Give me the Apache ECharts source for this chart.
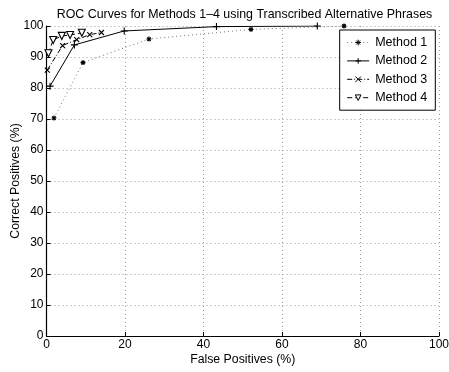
<!DOCTYPE html>
<html><head><meta charset="utf-8">
<script src="https://cdn.jsdelivr.net/npm/echarts@6/dist/echarts.min.js"></script>
<style>html,body{margin:0;padding:0;background:#fff}#c{width:449px;height:372px}</style>
</head><body><div id="c"></div>
<script>
const titleText = 'ROC Curves for Methods 1\u20134 using Transcribed Alternative Phrases';
const xName = 'False Positives (%)';
const yName = 'Correct Positives (%)';
const seriesNames = ['Method 1', 'Method 2', 'Method 3', 'Method 4'];
const method1 = [[1.9,70.3],[9.3,88.2],[26.1,95.8],[52.1,98.9],[75.8,100]];
const method2 = [[0.9,80.6],[7.1,93.9],[19.8,98.4],[43.3,99.8],[69,100]];
const method3 = [[0.2,85.8],[4.1,93.7],[7.7,95.6],[11,97.2],[14,97.9]];
const method4 = [[0.5,91.2],[1.7,95.5],[3.9,96.8],[6,97.1],[9,97.8]];

const font = 'Liberation Sans, Arial, Helvetica, sans-serif';
const chart = echarts.init(document.getElementById('c'), null, {renderer:'canvas'});
const asterisk = 'path://M0,-1L0,1M-1,0L1,0M-0.7,-0.7L0.7,0.7M-0.7,0.7L0.7,-0.7';
const plus = 'path://M0,-1L0,1M-1,0L1,0';
const cross = 'path://M-1,-1L1,1M-1,1L1,-1';
const tri = 'path://M-1,-0.9L1,-0.9L0,0.9Z';
function mk(name, data, sym, size, lineType, lineColor, fill){
  return {name, type:'line', data, symbol:sym, symbolSize:size, showSymbol:true,
    lineStyle:{color:lineColor, width:1, type:lineType},
    itemStyle:{color:fill, borderColor:'#000', borderWidth:1.1},
    emphasis:{disabled:true}, animation:false, z: 3};
}
chart.setOption({
  animation:false,
  backgroundColor:'#fff',
  title:{text:titleText, left:239.5, top:4, textAlign:'center',
    textStyle:{fontFamily:font, fontSize:12.4, fontWeight:'normal', color:'#000'}},
  grid:{left:46.5, right:10, top:26, bottom:36, outerBoundsMode:'none', containLabel:false},
  xAxis:{type:'value', min:0, max:100, interval:20, name:xName, nameLocation:'middle', nameGap:18,
    nameMoveOverlap:false,
    nameTextStyle:{fontFamily:font, fontSize:12.3, color:'#000'},
    axisLine:{show:true, onZero:false, lineStyle:{color:'#000', width:1.2}},
    axisTick:{show:true, inside:true, length:4, lineStyle:{color:'#000'}},
    axisLabel:{fontFamily:font, fontSize:12, color:'#000', margin:3},
    splitLine:{show:true, lineStyle:{color:'#999', type:[1,3], width:1}}},
  yAxis:{type:'value', min:0, max:100, interval:10, name:yName, nameLocation:'middle', nameGap:25,
    nameMoveOverlap:false,
    nameTextStyle:{fontFamily:font, fontSize:12.3, color:'#000'},
    axisLine:{show:true, onZero:false, lineStyle:{color:'#000', width:1.2}},
    axisTick:{show:true, inside:true, length:4, lineStyle:{color:'#000'}},
    axisLabel:{fontFamily:font, fontSize:12, color:'#000', margin:3},
    splitLine:{show:true, lineStyle:{color:'#999', type:[1,3], width:1}}},
  legend:{orient:'vertical', right:13.7, top:30, backgroundColor:'#fff', borderColor:'#000', borderWidth:1,
    padding:[6,8,6,7], itemGap:5.4, itemWidth:22, itemHeight:7,
    itemStyle:{borderWidth:1},
    lineStyle:{width:1},
    textStyle:{fontFamily:font, fontSize:12.5, color:'#000', padding:[0,0,0,1]},
    data:seriesNames},
  series:[
    mk(seriesNames[0], method1, asterisk, 5, [1,3], '#777', '#000'),
    mk(seriesNames[1], method2, plus, 7, 'solid', '#000', '#000'),
    mk(seriesNames[2], method3, cross, 5, [5,2,1,2], '#000', '#000'),
    mk(seriesNames[3], method4, tri, 7, [5,3], '#000', '#fff')
  ]
});
</script></body></html>
